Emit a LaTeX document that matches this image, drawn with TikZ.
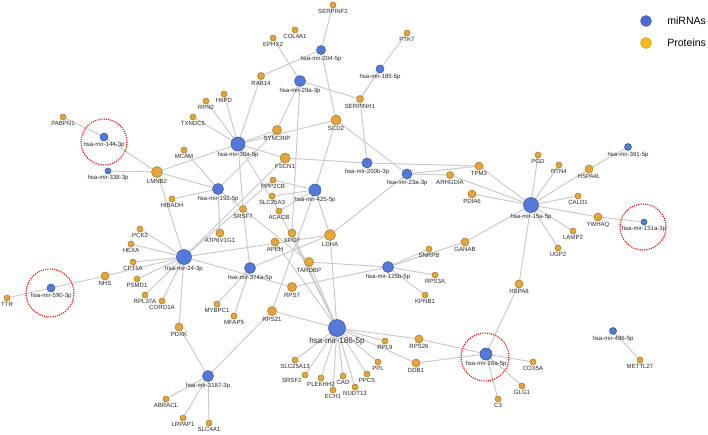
\documentclass[tikz,border=0pt]{standalone}
\usepackage{fontspec}
\setmainfont{Liberation Sans}
\usetikzlibrary{backgrounds}

\definecolor{mirfill}{HTML}{5479D8}
\definecolor{mirline}{HTML}{3557A8}
\definecolor{protfill}{HTML}{E6A53C}
\definecolor{protline}{HTML}{B07A22}
\definecolor{linkgray}{HTML}{CACACA}
\definecolor{legmir}{HTML}{4A6CD2}
\definecolor{legprot}{HTML}{F6BC1C}

\begin{document}
\begin{tikzpicture}[x=0.025cm, y=-0.025cm,
    mir/.style={circle, draw=mirline, fill=mirfill, line width=0.4pt, inner sep=0pt},
    prot/.style={circle, draw=protline, fill=protfill, line width=0.4pt, inner sep=0pt},
    lbl/.style={font=\fontsize{4.3}{5}\selectfont, inner sep=0.6pt, text=black!85},
    link/.style={draw=linkgray, line width=0.7pt},
    hilite/.style={draw=red, line width=0.8pt, dash pattern=on 0.8pt off 0.8pt}]

    % fix the page size
    \useasboundingbox (0,0) rectangle (708,434);

    % miRNAs: name / x / y / size / text
    \foreach \n/\x/\y/\d/\t in {
        m144/104/137/8/hsa-mir-144-3p, m338/108/171/6/hsa-mir-338-3p,
        m30a/238/144/14/hsa-mir-30a-5p, m192/218/189/11/hsa-mir-192-5p,
        m204/321/50/9/hsa-mir-204-5p, m29a/300/81/11/hsa-mir-29a-3p,
        m185/380/69/8/hsa-mir-185-5p, m425/315/190/12/hsa-mir-425-5p,
        m200b/367/163/10/hsa-mir-200b-3p, m23a/407/174/10/hsa-mir-23a-3p,
        m361/628/147/7/hsa-mir-361-5p, m15a/531/205/15/hsa-mir-15a-5p,
        m151a/644/222/6/hsa-mir-151a-3p, m24/184/257/15/hsa-mir-24-3p,
        m590/51/288/8/hsa-mir-590-3p, m374a/250/268/11/hsa-mir-374a-5p,
        m125b/388/267/11/hsa-mir-125b-5p, m3187/208/376/11/hsa-mir-3187-3p,
        m26a/486/354/12/hsa-mir-26a-5p, m486/613/331/7/hsa-mir-486-5p} {
        \node[mir, minimum size=\d*0.025cm, label={[lbl]below:\t}] (\n) at (\x,\y) {};
    }
    % the big hub gets a larger label
    \node[mir, minimum size=17*0.025cm,
          label={[lbl, font=\fontsize{5.8}{7}\selectfont]below:hsa-mir-186-5p}] (m186) at (337,328) {};

    % Proteins: name / x / y / size
    \foreach \n/\x/\y/\d in {
        PABPN1/63/117/6, LMNB2/157/172/11, MCAM/184/150/6, TXNDC5/193/117/6,
        RPN2/206/101/6, H6PD/224/94/6, HIBADH/172/199/6, SERPINF2/333/5/6,
        COL4A1/295/30/6, EPHX2/273/38/6, PTK7/407/33/6, RAB14/261/76/7,
        SERPINH1/360/99/7, SCD2/336/120/10, SYNCRIP/277/130/9, FSCN1/285/158/10,
        ARHGDIA/450/175/7, PPP2CB/273/180/6, SLC25A3/272/196/6, ACACB/279/211/6,
        SRSF7/243/209/7, PGD/538/155/6, RTN4/559/165/6, HSPA4L/589/169/8,
        TPM3/479/166/8, PDIA6/472/194/8, CALD1/578/196/6, YWHAQ/598/217/8,
        LAMP2/573/231/6, UGP2/558/248/6, GANAB/465/242/8, HSPA8/519/284/8,
        COX5A/533/362/6, GLG1/522/386/6, C3/498/399/6, METTL27/640/360/6,
        PCK2/140/229/6, HEXA/131/244/6, ATP6V1G1/220/233/8, CPT1A/133/262/6,
        NHS/105/276/8, PSMD1/137/279/6, TTR/7/298/6, RPL37A/145/295/6,
        CORO1A/162/301/6, MYBPC1/217/304/6, MFAP5/234/316/6, PDXK/179/327/8,
        ABRACL/166/399/6, LRPAP1/183/418/6, SLC4A1/209/423/6, XPO7/292/233/8,
        LDHA/330/235/11, APEH/275/242/8, TARDBP/309/262/9, SNRPB/429/249/6,
        RPS3A/435/275/6, KPNB1/425/295/6, RPS7/292/287/9, RPS21/272/311/9,
        RPL9/385/341/6, RPS26/419/339/8, DDB1/416/363/8, PPL/378/362/6,
        SLC25A13/295/360/6, PPCS/367/374/6, PLEKHH2/321/378/6,
        CAD/343/376/6, NUDT13/355/387/6, ECH1/333/390/6} {
        \node[prot, minimum size=\d*0.025cm, label={[lbl]below:\n}] (\n) at (\x,\y) {};
    }
    % label set to the left, as it would clash with PLEKHH2
    \node[prot, minimum size=6*0.025cm, label={[lbl]below left:SRSF2}] (SRSF2) at (305,375) {};

    % interactions
    \begin{pgfonlayer}{background}
    \foreach \a/\b in {
        m144/PABPN1, m144/LMNB2, m338/LMNB2, m30a/LMNB2, m192/LMNB2, m24/LMNB2,
        m192/MCAM, m192/HIBADH, m30a/TXNDC5, m30a/RPN2, m30a/H6PD,
        m30a/RAB14, m204/RAB14, m29a/EPHX2, m204/SERPINF2, m204/SCD2,
        m29a/SYNCRIP, m30a/SYNCRIP, m192/SYNCRIP, m30a/SCD2,
        m29a/SERPINH1, m185/SERPINH1, m185/PTK7, m200b/SERPINH1,
        m425/SCD2, m23a/SCD2, m30a/FSCN1, m200b/FSCN1, m24/FSCN1, m29a/XPO7,
        m425/PPP2CB, m425/SLC25A3, m425/ACACB, m425/LDHA, m425/RPS21, m24/PPP2CB,
        m30a/SRSF7, m374a/SRSF7, m30a/ACACB, m192/ATP6V1G1, m192/TARDBP,
        m23a/LDHA, m23a/ARHGDIA, m200b/TPM3, m23a/TPM3,
        m15a/ARHGDIA, m15a/TPM3, m15a/PDIA6, m15a/PGD, m15a/RTN4, m15a/HSPA4L,
        m15a/CALD1, m15a/YWHAQ, m15a/LAMP2, m15a/UGP2, m15a/GANAB, m15a/HSPA8,
        m361/HSPA4L, m151a/YWHAQ,
        m125b/GANAB, m125b/SNRPB, m125b/RPS3A, m125b/KPNB1, m125b/TARDBP, m125b/RPS7,
        m26a/HSPA8, m26a/COX5A, m26a/GLG1, m26a/C3, m26a/RPS26, m26a/DDB1,
        m486/METTL27, m590/TTR, m590/NHS, m24/NHS,
        m24/PCK2, m24/HEXA, m24/CPT1A, m24/PSMD1, m24/RPL37A, m24/CORO1A,
        m24/PDXK, m24/LDHA, m24/RPS7,
        m374a/MYBPC1, m374a/MFAP5, m374a/LDHA,
        m186/LDHA, m186/TARDBP, m186/XPO7, m186/APEH, m186/ACACB, m186/RPS21,
        m186/SLC25A13, m186/SRSF2, m186/PLEKHH2, m186/ECH1, m186/CAD,
        m186/NUDT13, m186/PPCS, m186/PPL, m186/RPL9, m186/RPS26, m186/DDB1,
        m3187/PDXK, m3187/ABRACL, m3187/LRPAP1, m3187/SLC4A1, m3187/RPS21} {
        \draw[link] (\a) -- (\b);
    }
    \end{pgfonlayer}

    % highlighted miRNAs
    \draw[hilite] (104,142) circle (23);
    \draw[hilite] (50,293) circle (24);
    \draw[hilite] (643,227) circle (23);
    \draw[hilite] (485,357) circle (24);

    % Legend
    \node[circle, fill=legmir, draw=legmir!80!black, line width=0.3pt, minimum size=11*0.025cm, inner sep=0pt] (legA) at (646,21) {};
    \node[anchor=west, font=\fontsize{7.5}{9}\selectfont, inner sep=0pt] (legAtxt) at (667,21) {miRNAs};
    \node[circle, fill=legprot, draw=legprot!80!black, line width=0.3pt, minimum size=11*0.025cm, inner sep=0pt] (legB) at (646,43) {};
    \node[anchor=west, font=\fontsize{7.5}{9}\selectfont, inner sep=0pt] (legBtxt) at (667,43) {Proteins};
\end{tikzpicture}
\end{document}
